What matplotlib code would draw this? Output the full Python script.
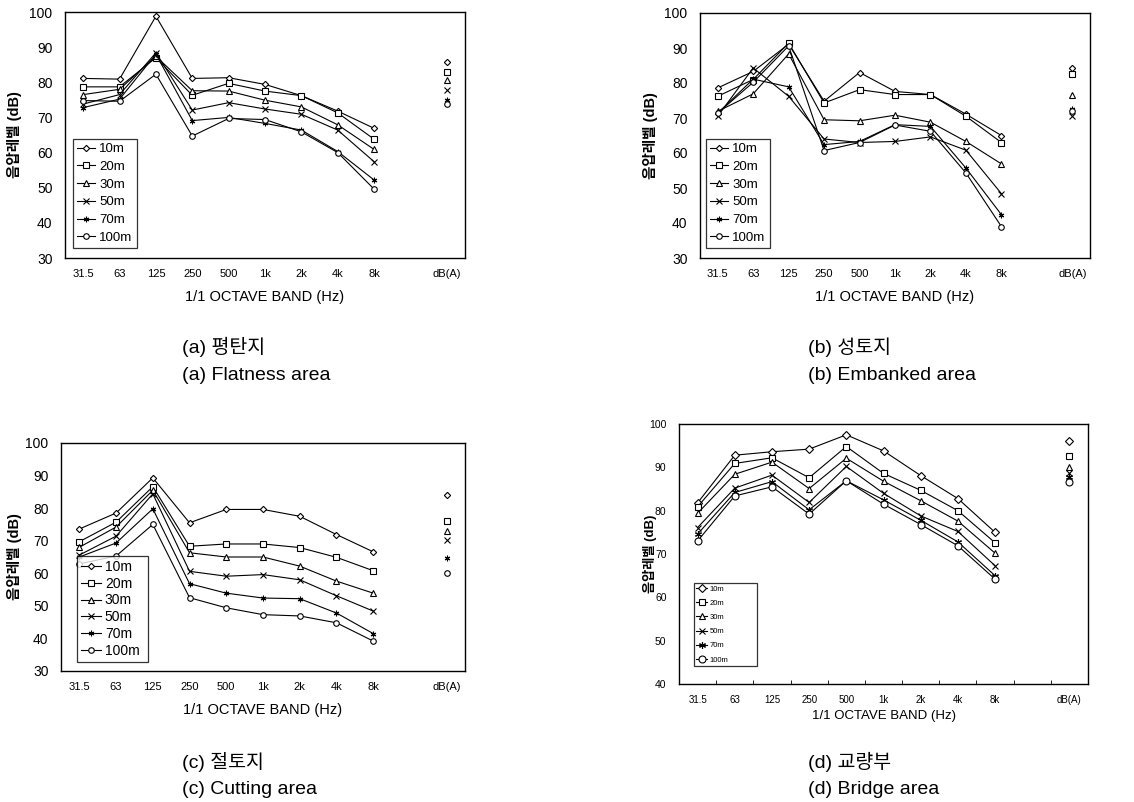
import matplotlib
matplotlib.use("Agg")
import matplotlib.pyplot as plt
import numpy as np

plt.rcParams['font.family'] = ['Liberation Sans', 'Noto Sans CJK KR', 'DejaVu Sans']

bands = ["31.5", "63", "125", "250", "500", "1k", "2k", "4k", "8k"]
dba_label = "dB(A)"
distances = ["10m", "20m", "30m", "50m", "70m", "100m"]

# (a) Flatness area
flat_10 = [81.1, 80.9, 98.8, 81.1, 81.3, 79.4, 76.2, 71.8, 66.9]
flat_20 = [78.7, 78.7, 87.0, 76.3, 79.7, 77.5, 76.2, 71.3, 63.8]
flat_30 = [76.5, 78.0, 87.4, 77.6, 77.5, 74.9, 73.0, 67.9, 60.9]
flat_50 = [73.8, 76.5, 88.4, 72.1, 74.2, 72.4, 70.9, 66.4, 57.4]
flat_70 = [72.8, 75.2, 88.0, 69.1, 70.0, 68.3, 66.4, 60.3, 52.2]
flat_100 = [74.8, 74.6, 82.3, 64.7, 69.7, 69.4, 65.9, 60.0, 49.6]
flat_dba = [85.7, 82.9, 80.6, 77.8, 74.9, 73.7]

# (b) Embanked area
emb_10 = [78.6, 83.3, 91.1, 74.8, 83.0, 77.6, 76.7, 71.1, 65.0]
emb_20 = [76.2, 81.0, 91.4, 74.3, 78.1, 76.7, 76.7, 70.5, 63.0]
emb_30 = [71.9, 76.9, 88.3, 69.5, 69.2, 70.8, 68.8, 63.3, 56.9]
emb_50 = [70.5, 84.3, 76.2, 64.0, 63.0, 63.3, 64.6, 60.8, 48.4]
emb_70 = [71.4, 81.1, 78.9, 62.4, 63.3, 68.1, 67.6, 55.7, 42.4]
emb_100 = [71.4, 80.2, 90.6, 60.7, 63.0, 68.0, 66.2, 54.3, 39.0]
emb_dba = [84.3, 82.7, 76.7, 70.5, 72.6, 71.9]

# (c) Cutting area
cut_10 = [73.6, 78.5, 89.3, 75.5, 79.6, 79.6, 77.5, 71.9, 66.6]
cut_20 = [69.7, 75.7, 86.6, 68.3, 69.0, 69.0, 67.9, 64.9, 60.8]
cut_30 = [68.0, 74.2, 85.5, 66.3, 65.0, 65.0, 62.2, 57.6, 53.9]
cut_50 = [65.6, 71.4, 84.4, 60.6, 59.1, 59.6, 58.0, 53.1, 48.4]
cut_70 = [65.0, 69.3, 79.8, 56.8, 53.9, 52.4, 52.2, 47.8, 41.5]
cut_100 = [62.9, 65.3, 75.0, 52.5, 49.4, 47.3, 46.9, 44.8, 39.2]
cut_dba = [84.1, 75.9, 72.9, 70.1, 64.8, 60.1]

# (d) Bridge area
brg_10 = [81.8, 92.8, 93.6, 94.2, 97.5, 93.8, 88.1, 82.8, 75.0]
brg_20 = [80.9, 90.9, 92.2, 87.6, 94.8, 88.6, 84.7, 80.0, 72.6]
brg_30 = [79.4, 88.4, 91.2, 85.1, 92.1, 86.8, 82.3, 77.6, 70.2]
brg_50 = [76.1, 85.2, 88.2, 81.9, 90.2, 84.0, 78.8, 75.2, 67.3]
brg_70 = [74.6, 84.2, 86.7, 80.2, 86.9, 82.5, 77.8, 72.8, 65.0]
brg_100 = [73.0, 83.4, 85.5, 79.2, 86.9, 81.5, 76.8, 71.9, 64.2]
brg_dba = [96.1, 92.5, 90.0, 88.6, 87.8, 86.7]

markers = ['D', 's', '^', 'x', (6, 2, 0), 'o']
msize_scale = [0.8, 1.0, 1.0, 1.0, 1.0, 1.0]

W, H = 1134, 802
fig = plt.figure(figsize=(W / 100, H / 100), dpi=100)


def rect(l, t, r, b):
    return [l / W, 1 - b / H, (r - l) / W, (b - t) / H]


panels = [
    dict(rect=rect(65, 12, 465, 258), series=[flat_10, flat_20, flat_30, flat_50, flat_70, flat_100],
         dba=flat_dba, ylim=(30, 100), yt=range(30, 101, 10), leg=(73, 141, 137, 248),
         ylab_x=15, cap=("(a) 평탄지", "(a) Flatness area"), cap_xy=(182, 347),
         tfs=10, xtfs=8, lfs=10.5, ms=4, legfs=9.5, lsp=0.42, xlab_y=297, small=False),
    dict(rect=rect(700, 13, 1090, 258), series=[emb_10, emb_20, emb_30, emb_50, emb_70, emb_100],
         dba=emb_dba, ylim=(30, 100), yt=range(30, 101, 10), leg=(706, 140, 770, 248),
         ylab_x=650, cap=("(b) 성토지", "(b) Embanked area"), cap_xy=(808, 347),
         tfs=10, xtfs=8, lfs=10.5, ms=4, legfs=9.5, lsp=0.42, xlab_y=297, small=False),
    dict(rect=rect(61, 443, 465, 671), series=[cut_10, cut_20, cut_30, cut_50, cut_70, cut_100],
         dba=cut_dba, ylim=(30, 100), yt=range(30, 101, 10), leg=(77, 568, 148, 662),
         ylab_x=15, cap=("(c) 절토지", "(c) Cutting area"), cap_xy=(182, 762),
         tfs=10, xtfs=8, lfs=10.5, ms=4, legfs=10, lsp=0.2, xlab_y=710, small=False),
    dict(rect=rect(679, 424, 1088, 684), series=[brg_10, brg_20, brg_30, brg_50, brg_70, brg_100],
         dba=brg_dba, ylim=(40, 100), yt=range(40, 101, 10), leg=(694, 570, 757, 666),
         ylab_x=650, cap=("(d) 교량부", "(d) Bridge area"), cap_xy=(808, 762),
         tfs=7.5, xtfs=7, lfs=9.5, ms=5, legfs=5.5, lsp=0.9, xlab_y=716, small=True),
]

xpos = np.arange(len(bands))
dba_x = len(bands) + 1

for p in panels:
    ax = fig.add_axes(p['rect'])
    handles = []
    for vals, mk, sc, lab in zip(p['series'], markers, msize_scale, distances):
        h, = ax.plot(xpos, vals, color='black', lw=0.8, marker=mk, ms=p['ms'] * sc,
                     mfc='white', mec='black', mew=0.8, label=lab)
        handles.append(h)
    for v, mk, sc in zip(p['dba'], markers, msize_scale):
        ax.plot([dba_x], [v], linestyle='none', marker=mk, ms=p['ms'] * sc,
                mfc='white', mec='black', mew=0.8)
    ax.set_xlim(-0.5, dba_x + 0.5)
    ax.set_ylim(*p['ylim'])
    ax.set_yticks(list(p['yt']))
    ax.set_xticks(list(xpos) + [dba_x])
    ax.set_xticklabels(bands + [dba_label], fontsize=p['xtfs'])
    ax.tick_params(axis='y', length=0, labelsize=p['tfs'], pad=9)
    ax.tick_params(axis='x', length=0, pad=8)
    if p['small']:
        ax.set_xticks(np.arange(0.5, dba_x, 1.0), minor=True)
        ax.tick_params(axis='x', which='minor', length=3, direction='in')
    for s in ax.spines.values():
        s.set_linewidth(1.0)
        s.set_color('black')
    # legend
    l, t, r, b = p['leg']
    axp = p['rect']
    lx = (l / W - axp[0]) / axp[2]
    ly = ((1 - b / H) - axp[1]) / axp[3]
    lw_ = (r - l) / W / axp[2]
    lh_ = (b - t) / H / axp[3]
    leg = ax.legend(handles=handles, loc='lower left', bbox_to_anchor=(lx, ly, lw_, lh_),
                    mode='expand', fontsize=p['legfs'], frameon=True, fancybox=False,
                    edgecolor='black', handlelength=1.4, handletextpad=0.3,
                    borderpad=0.3, labelspacing=p['lsp'], borderaxespad=0)
    leg.get_frame().set_linewidth(0.9)
    # y label
    yc = axp[1] + axp[3] / 2
    fig.text(p['ylab_x'] / W, yc, "음압레벨 (dB)", rotation=90, ha='center', va='center',
             fontsize=p['lfs'], fontweight='bold')
    # x label
    fig.text(axp[0] + axp[2] / 2, 1 - p['xlab_y'] / H, "1/1 OCTAVE BAND (Hz)",
             ha='center', va='center', fontsize=p['lfs'])
    # captions
    cx, cy = p['cap_xy']
    fig.text(cx / W, 1 - cy / H, p['cap'][0], ha='left', va='center', fontsize=14)
    fig.text(cx / W, 1 - (cy + 28) / H, p['cap'][1], ha='left', va='center', fontsize=14)

fig.savefig("out.png", dpi=100)
